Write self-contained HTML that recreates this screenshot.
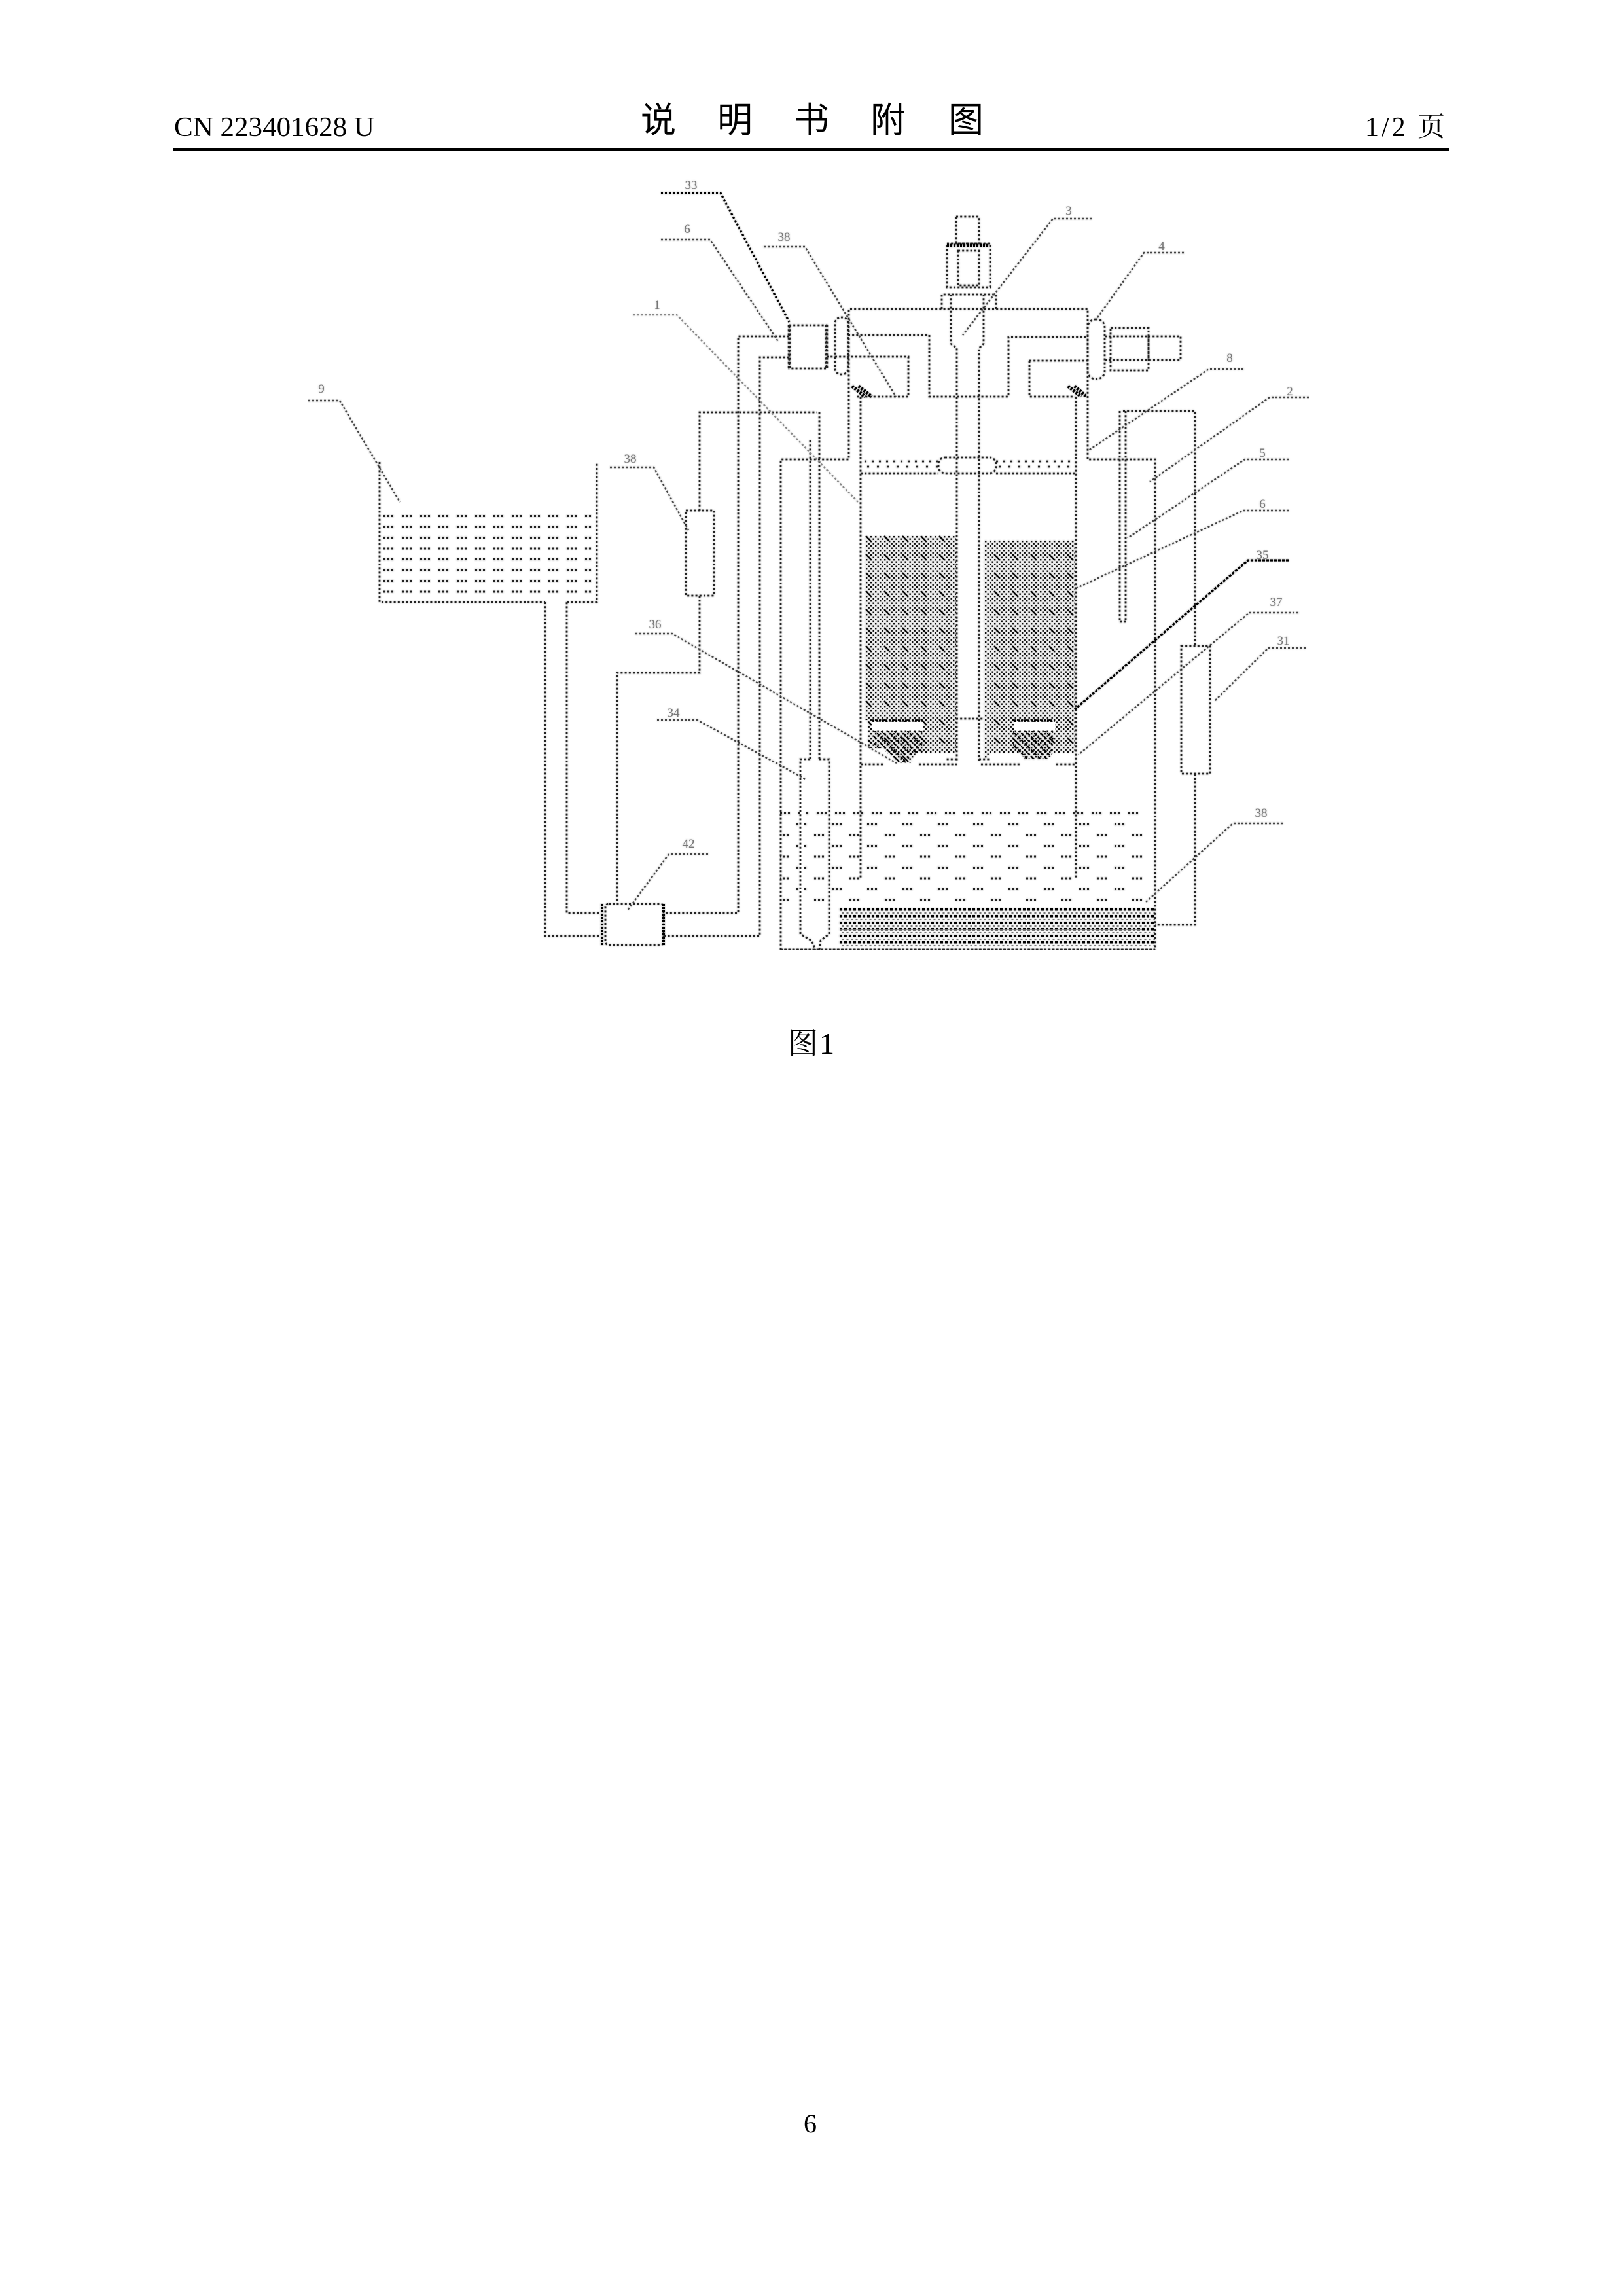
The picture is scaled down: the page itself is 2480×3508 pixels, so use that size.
<!DOCTYPE html>
<html><head><meta charset="utf-8"><style>
html,body{margin:0;padding:0;background:#fff}
svg{display:block}
.d{fill:none;stroke:#222;stroke-width:2.8;stroke-dasharray:3 3.2}
.h{fill:none;stroke:#000;stroke-width:5;stroke-dasharray:3 2}
.l{fill:none;stroke:#444;stroke-width:2.4;stroke-dasharray:3 3}
.n{font-family:"Liberation Serif",serif;font-size:19px;fill:#777;text-anchor:middle}
.s{font-family:"Liberation Serif","Noto Serif CJK SC",serif;fill:#000}
.t{font-family:"Liberation Sans","Noto Sans CJK SC",sans-serif;font-size:54px;fill:#000;text-anchor:middle}
</style></head><body>
<svg width="2480" height="3508" viewBox="0 0 2480 3508" xmlns="http://www.w3.org/2000/svg">
<defs>
<filter id="halo" x="0" y="0" width="1" height="1" filterUnits="objectBoundingBox">
<feGaussianBlur in="SourceGraphic" stdDeviation="1.4" result="b"/>
<feComponentTransfer in="b" result="c"><feFuncA type="linear" slope="0.45"/></feComponentTransfer>
<feMerge><feMergeNode in="c"/><feMergeNode in="SourceGraphic"/></feMerge>
</filter>
<pattern id="fill" width="28" height="28" patternUnits="userSpaceOnUse">
<g fill="#111">
<rect x="0" y="0" width="2.4" height="2.4"/><rect x="7" y="0" width="2.4" height="2.4"/><rect x="14" y="0" width="2.4" height="2.4"/><rect x="21" y="0" width="2.4" height="2.4"/>
<rect x="3.5" y="3.5" width="2.4" height="2.4"/><rect x="10.5" y="3.5" width="2.4" height="2.4"/><rect x="17.5" y="3.5" width="2.4" height="2.4"/><rect x="24.5" y="3.5" width="2.4" height="2.4"/>
<rect x="0" y="7" width="2.4" height="2.4"/><rect x="7" y="7" width="2.4" height="2.4"/><rect x="14" y="7" width="2.4" height="2.4"/><rect x="21" y="7" width="2.4" height="2.4"/>
<rect x="3.5" y="10.5" width="2.4" height="2.4"/><rect x="10.5" y="10.5" width="2.4" height="2.4"/><rect x="17.5" y="10.5" width="2.4" height="2.4"/><rect x="24.5" y="10.5" width="2.4" height="2.4"/>
<rect x="0" y="14" width="2.4" height="2.4"/><rect x="7" y="14" width="2.4" height="2.4"/><rect x="14" y="14" width="2.4" height="2.4"/><rect x="21" y="14" width="2.4" height="2.4"/>
<rect x="3.5" y="17.5" width="2.4" height="2.4"/><rect x="10.5" y="17.5" width="2.4" height="2.4"/><rect x="17.5" y="17.5" width="2.4" height="2.4"/><rect x="24.5" y="17.5" width="2.4" height="2.4"/>
<rect x="0" y="21" width="2.4" height="2.4"/><rect x="7" y="21" width="2.4" height="2.4"/><rect x="14" y="21" width="2.4" height="2.4"/><rect x="21" y="21" width="2.4" height="2.4"/>
<rect x="3.5" y="24.5" width="2.4" height="2.4"/><rect x="10.5" y="24.5" width="2.4" height="2.4"/><rect x="17.5" y="24.5" width="2.4" height="2.4"/><rect x="24.5" y="24.5" width="2.4" height="2.4"/>
</g>
<path d="M7 7L15 15" stroke="#000" stroke-width="2" fill="none"/>
</pattern>
<pattern id="hatch2" width="10" height="10" patternUnits="userSpaceOnUse">
<path d="M0 0L10 10" stroke="#000" stroke-width="2.2" fill="none" stroke-dasharray="5 3"/>
</pattern>
<pattern id="water" width="54" height="33" patternUnits="userSpaceOnUse" patternTransform="translate(1325 1258)">
<g fill="#222"><rect x="0" y="0" width="3" height="3"/><rect x="6" y="0" width="3" height="3"/><rect x="12" y="0" width="3" height="3"/>
<rect x="27" y="16.5" width="3" height="3"/><rect x="33" y="16.5" width="3" height="3"/><rect x="39" y="16.5" width="3" height="3"/></g>
</pattern>
<pattern id="water0" width="28" height="6" patternUnits="userSpaceOnUse" patternTransform="translate(1192 1241)">
<g fill="#222"><rect x="0" y="0" width="3" height="3"/><rect x="6" y="0" width="3" height="3"/><rect x="12" y="0" width="3" height="3"/></g>
</pattern>
<pattern id="tank" width="28" height="16.5" patternUnits="userSpaceOnUse" patternTransform="translate(586 787)">
<g fill="#222"><rect x="0" y="0" width="3" height="3"/><rect x="6" y="0" width="3" height="3"/><rect x="12" y="0" width="3" height="3"/></g>
</pattern>
<pattern id="coil" width="7" height="10" patternUnits="userSpaceOnUse" patternTransform="translate(1283 1388)">
<rect x="0" y="0" width="4" height="3.5" fill="#000"/><rect x="3.5" y="6" width="3" height="2" fill="#777"/>
</pattern>
</defs>
<rect width="2480" height="3508" fill="#fff"/>

<!-- header -->
<text class="s" x="266" y="208" font-size="42" textLength="306" lengthAdjust="spacingAndGlyphs">CN 223401628 U</text>
<text class="t" x="1006" y="202">说</text>
<text class="t" x="1123" y="202">明</text>
<text class="t" x="1240" y="202">书</text>
<text class="t" x="1357" y="202">附</text>
<text class="t" x="1476" y="202">图</text>
<text class="s" x="2086" y="208" font-size="42" textLength="122">1/2 页</text>
<rect x="265" y="226" width="1949" height="5" fill="#000"/>

<g filter="url(#halo)">
<!-- fills -->
<path d="M1321 818H1461V1150H1400L1392 1166H1372L1347 1143H1326V1100H1321Z" fill="url(#fill)"/>
<path d="M1503 826H1643V1150H1610L1600 1160H1565L1560 1150H1513L1503 1166Z" fill="url(#fill)"/>
<rect x="1333" y="1103" width="77" height="13" fill="#fff"/>
<rect x="1550" y="1103" width="62" height="13" fill="#fff"/>
<path class="h" d="M1333 1101H1410M1550 1101H1612" style="stroke-width:3.5"/>
<path d="M1335 1117H1410V1150H1395L1385 1164H1372L1347 1143H1335Z" fill="url(#hatch2)"/>
<path d="M1548 1117H1612L1605 1160H1565L1548 1140Z" fill="url(#hatch2)"/>
<path class="d" d="M1461 1098H1503"/>
<rect x="1192" y="1258" width="562" height="118" fill="url(#water)"/>
<rect x="1192" y="1241" width="560" height="3" fill="url(#water0)"/>
<rect x="1223" y="1160" width="6" height="240" fill="#fff"/>
<rect x="586" y="786" width="318" height="120" fill="url(#tank)"/>
<rect x="1283" y="1388" width="482" height="58" fill="url(#coil)"/>
<path d="M1283 1420H1745" stroke="#888" stroke-width="1.5"/>

<!-- outer vessel -->
<path class="d" d="M1193 1451V702H1297V472H1662V702H1765V1451Z"/>
<path class="d" d="M1193 1451H1765"/>
<!-- head ducts -->
<path class="d" d="M1296 512H1420V606H1541V515H1662"/>
<path class="d" d="M1276 545H1388V606H1308"/>
<path class="d" d="M1573 551H1662M1573 551V606H1643"/>
<path class="h" d="M1302 590L1322 606M1312 590L1332 606M1632 590L1652 606M1642 590L1660 606"/>
<!-- chamber -->
<path class="d" d="M1315 606V1342M1644 606V1342"/>
<path class="d" d="M1315 1168H1350M1404 1168H1462M1499 1168H1559M1614 1168H1644"/>
<!-- piston -->
<path class="d" d="M1315 723H1434M1522 723H1643"/>
<path class="d" d="M1321 705H1434M1522 705H1643" style="stroke-dasharray:3 8"/>
<path class="d" d="M1325 713H1434M1526 713H1643" style="stroke-dasharray:3 12"/>
<rect x="1434" y="699" width="88" height="24" rx="10" class="d"/>
<!-- rod -->
<path class="d" d="M1453 450V525L1462 532V1162M1503 450V525L1496 532V1162"/>
<path class="d" d="M1462 1160H1445M1496 1160H1514"/>
<!-- top fitting -->
<rect x="1461" y="331" width="35" height="41" class="d"/>
<rect x="1447" y="372" width="66" height="67" class="d"/>
<path class="h" d="M1447 375H1513"/>
<path class="d" d="M1464 383H1496V436H1464Z"/>
<path class="d" d="M1439 472V450H1522V472"/>
<!-- left valve -->
<rect x="1206" y="497" width="57" height="66" class="d"/>
<path class="d" d="M1263 497V563" style="stroke-width:4.5"/>
<path class="d" d="M1206 497V563" style="stroke-width:4.5"/>
<rect x="1276" y="485" width="20" height="87" rx="9" class="d"/>
<path class="d" d="M1263 545H1276"/>
<!-- right fitting -->
<rect x="1662" y="488" width="26" height="91" rx="12" class="d"/>
<rect x="1697" y="501" width="58" height="65" class="d"/>
<rect x="1755" y="514" width="49" height="36" class="d"/>
<path class="d" d="M1688 514H1755M1688 550H1755"/>
<!-- left pipes -->
<path class="d" d="M1206 514H1128V1395H1014"/>
<path class="d" d="M1206 546H1161V1430H1014"/>
<path class="d" d="M1238 673V1160M1252 630V1160"/>
<path class="d" d="M1069 910V1028H943V1378"/>
<path class="d" d="M1069 780V630H1248"/>
<rect x="1048" y="780" width="43" height="130" class="d"/>
<!-- sensor tube -->
<path class="d" d="M1238 1160H1223V1427L1240 1437L1246 1451M1252 1160H1267V1427L1254 1437L1252 1451"/>
<!-- pump -->
<rect x="925" y="1381" width="89" height="63" rx="5" class="d"/>
<path class="h" d="M920 1381V1444M1014 1381V1444" style="stroke-width:4"/>
<path class="d" d="M915 1395H866V920M915 1430H833V920"/>
<!-- tank -->
<path class="d" d="M580 706V920H833M866 920H912V706"/>
<!-- thermometer -->
<path class="d" d="M1711 628V950M1720 628V950M1711 950H1720M1716 628H1826V987"/>
<!-- right heater -->
<rect x="1805" y="987" width="44" height="195" class="d"/>
<path class="d" d="M1826 1182V1413H1765"/>

<!-- leaders -->
<path class="l" d="M1010 295H1101L1206 492" style="stroke:#000;stroke-width:3.2"/>
<path class="l" d="M1010 366H1085L1190 523"/>
<path class="l" d="M1167 377H1230L1369 606"/>
<path class="l" d="M967 481H1034L1311 767" style="stroke:#888"/>
<path class="l" d="M1668 334H1609L1471 512"/>
<path class="l" d="M1809 386H1748L1675 488"/>
<path class="l" d="M1900 564H1847L1662 689"/>
<path class="l" d="M2000 607H1940L1757 736"/>
<path class="l" d="M1969 702H1902L1723 822"/>
<path class="l" d="M1969 780H1900L1646 898"/>
<path class="l" d="M1969 856H1907L1642 1084" style="stroke:#000;stroke-width:3.2;stroke-dasharray:4 2"/>
<path class="l" d="M1984 936H1909L1648 1153"/>
<path class="l" d="M1995 990H1938L1855 1072"/>
<path class="l" d="M1960 1258H1884L1751 1378"/>
<path class="l" d="M471 612H519L611 767"/>
<path class="l" d="M932 714H999L1052 810"/>
<path class="l" d="M971 968H1027L1370 1166"/>
<path class="l" d="M1004 1100H1065L1232 1191"/>
<path class="l" d="M1082 1305H1022L958 1392"/>

<!-- labels -->
<text class="n" x="1056" y="289">33</text>
<text class="n" x="1050" y="356">6</text>
<text class="n" x="1198" y="368">38</text>
<text class="n" x="1004" y="472">1</text>
<text class="n" x="1633" y="328">3</text>
<text class="n" x="1775" y="382">4</text>
<text class="n" x="1879" y="553">8</text>
<text class="n" x="1971" y="604">2</text>
<text class="n" x="1929" y="698">5</text>
<text class="n" x="1929" y="776">6</text>
<text class="n" x="1929" y="854">35</text>
<text class="n" x="1950" y="926">37</text>
<text class="n" x="1961" y="985">31</text>
<text class="n" x="1927" y="1248">38</text>
<text class="n" x="491" y="600">9</text>
<text class="n" x="963" y="707">38</text>
<text class="n" x="1001" y="960">36</text>
<text class="n" x="1029" y="1095">34</text>
<text class="n" x="1052" y="1295">42</text>
</g>

<!-- caption -->
<text class="s" x="1204" y="1610" font-size="46" style="font-family:'Noto Serif CJK SC',serif">图</text>
<text class="s" x="1252" y="1610" font-size="46">1</text>
<text class="s" x="1238" y="3249" font-size="40" text-anchor="middle" dy="9">6</text>
</svg>
</body></html>
